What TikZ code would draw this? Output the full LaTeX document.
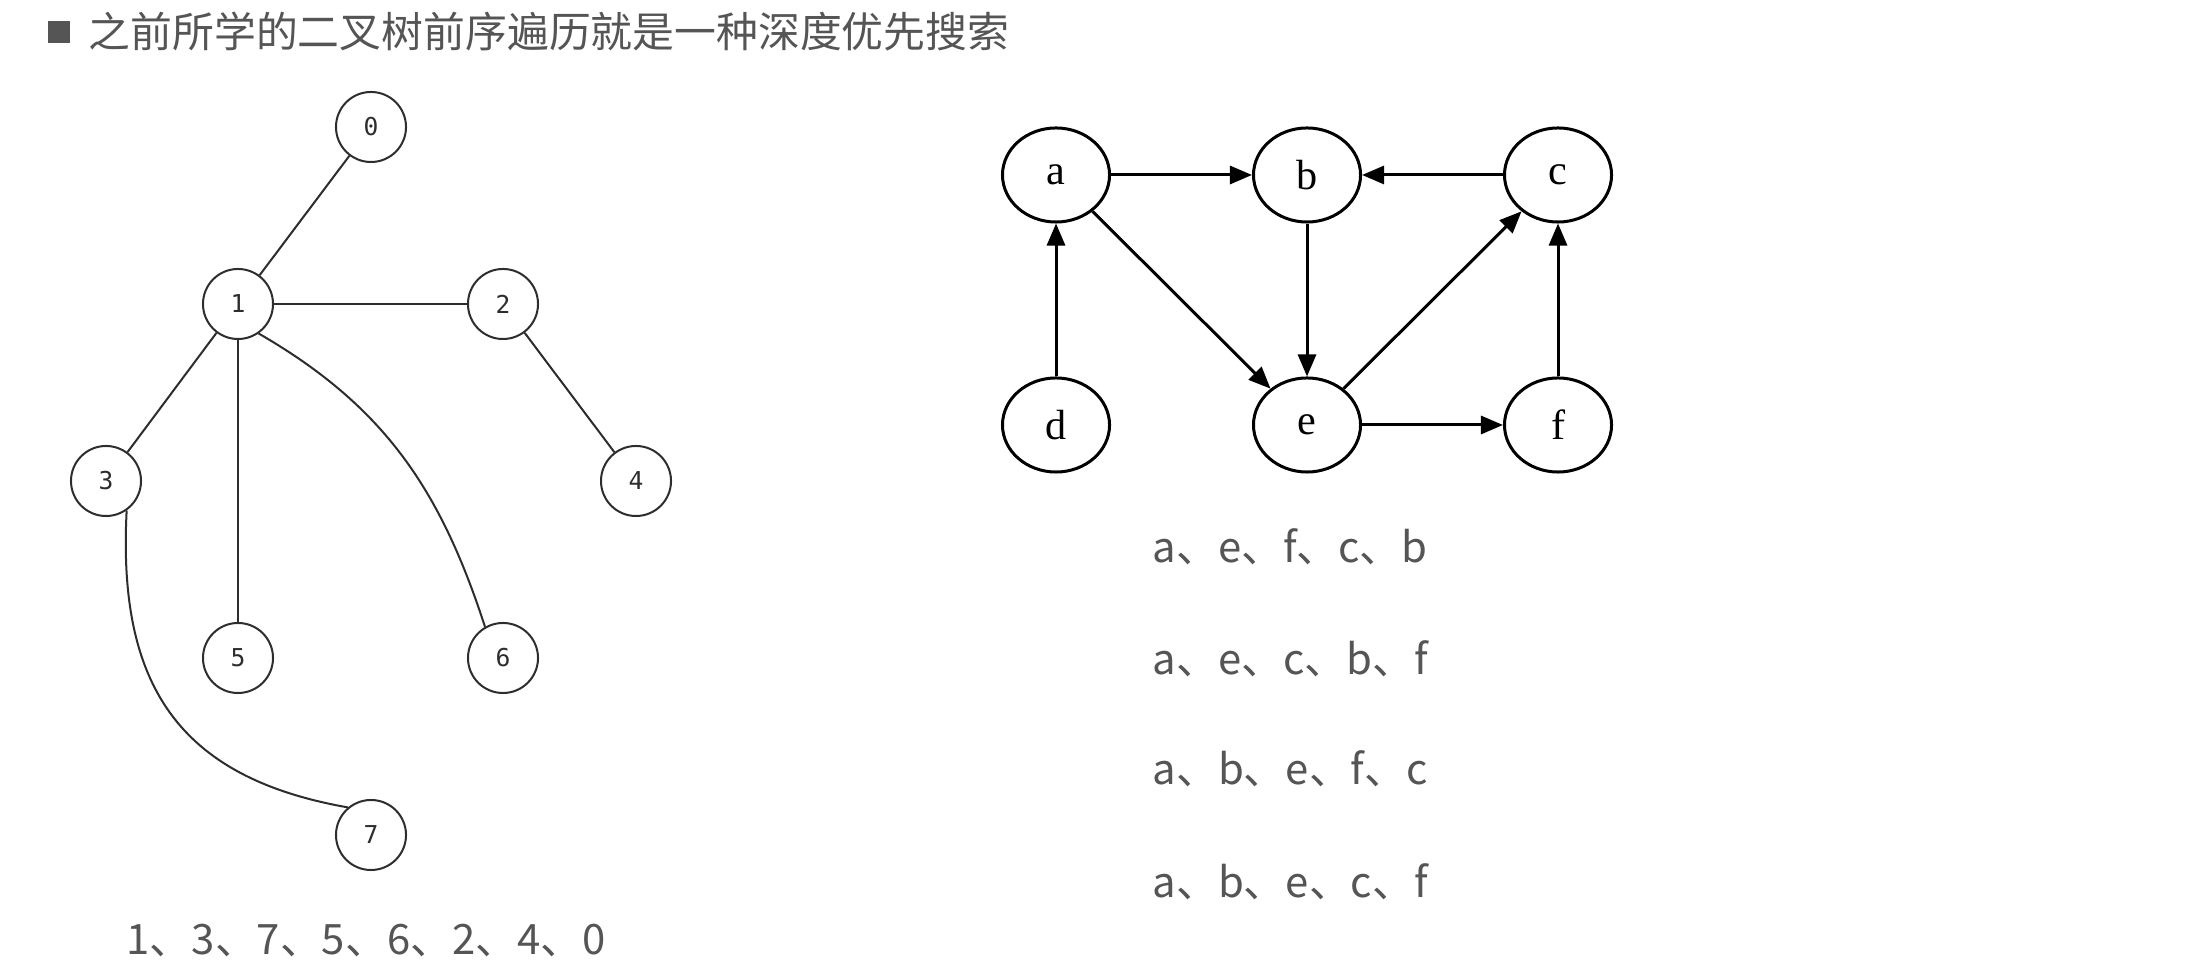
\documentclass[tikz,border=0pt]{standalone}
\usepackage{fontspec}
\setmainfont{Liberation Serif}
\setmonofont{DejaVu Sans Mono}
\newfontfamily\cjkfont{Noto Sans CJK SC}
\usetikzlibrary{arrows.meta, shapes.geometric}
\definecolor{textgray}{RGB}{85,85,85}
\definecolor{linegray}{RGB}{45,45,45}

\begin{document}
\begin{tikzpicture}[x=0.01cm, y=0.01cm,
  tnode/.style={circle, draw=linegray, line width=0.02cm, minimum size=0.7cm,
                inner sep=0pt, text=linegray, font=\ttfamily\fontsize{7}{8}\selectfont},
  gnode/.style={ellipse, draw=black, line width=0.03cm, minimum width=1.07cm,
                minimum height=0.94cm, inner sep=0pt, font=\fontsize{12}{14}\selectfont},
  tedge/.style={draw=linegray, line width=0.02cm},
  arr/.style={-{Triangle[length=0.22cm, width=0.18cm]}, line width=0.03cm},
  seq/.style={anchor=base west, inner sep=0pt, text=textgray,
              font=\cjkfont\fontsize{11.9}{14}\selectfont}
]
  \fill[white] (0,0) rectangle (2210,-974);
  \useasboundingbox (0,0) rectangle (2210,-974);

  % heading
  \fill[textgray] (48,-21) rectangle (70,-43);
  \node[seq] (title) at (88,-48) {之前所学的二叉树前序遍历就是一种深度优先搜索};

  % tree on the left
  \node[tnode] (n0) at (371,-127) {0};
  \node[tnode] (n1) at (238,-304) {1};
  \node[tnode] (n2) at (503,-304) {2};
  \node[tnode] (n3) at (106,-481) {3};
  \node[tnode] (n4) at (636,-481) {4};
  \node[tnode] (n5) at (238,-658) {5};
  \node[tnode] (n6) at (503,-658) {6};
  \node[tnode] (n7) at (371,-835) {7};

  \draw[tedge] (n1) -- (n0);
  \draw[tedge] (n1) -- (n2);
  \draw[tedge] (n1) -- (n3);
  \draw[tedge] (n1) -- (n5);
  \draw[tedge] (n2) -- (n4);
  \draw[tedge] (n1.-55) to[out=-30, in=108] (n6.120);
  \draw[tedge] (n3.-55) to[out=-93, in=170, looseness=1.2] (n7.130);

  \node[seq] (treeorder) at (126,-955) {1、3、7、5、6、2、4、0};

  % directed graph on the right
  \node[gnode] (a) at (1056,-175) {a};
  \node[gnode] (b) at (1307,-175) {b};
  \node[gnode] (c) at (1558,-175) {c};
  \node[gnode] (d) at (1056,-425) {d};
  \node[gnode] (e) at (1307,-425) {e};
  \node[gnode] (f) at (1558,-425) {f};

  \draw[arr] (a) -- (b);
  \draw[arr] (c) -- (b);
  \draw[arr] (b) -- (e);
  \draw[arr] (a) -- (e);
  \draw[arr] (e) -- (c);
  \draw[arr] (d) -- (a);
  \draw[arr] (e) -- (f);
  \draw[arr] (f) -- (c);

  \node[seq] (order1) at (1152,-563) {a、e、f、c、b};
  \node[seq] (order2) at (1152,-675) {a、e、c、b、f};
  \node[seq] (order3) at (1152,-785) {a、b、e、f、c};
  \node[seq] (order4) at (1152,-897) {a、b、e、c、f};
\end{tikzpicture}
\end{document}
